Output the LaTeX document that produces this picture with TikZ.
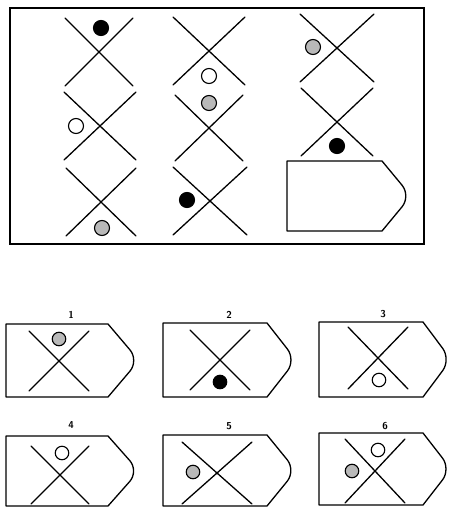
\documentclass[tikz,border=0pt]{standalone}
\begin{document}
\begin{tikzpicture}[x=1pt,y=-1pt,
  crossline/.style={line width=1.3pt,line cap=round},
  dotbase/.style={circle,draw,line width=1.1pt,inner sep=0pt,minimum size=15pt},
  dotsmall/.style={dotbase,minimum size=13.5pt},
  blackdot/.style={fill=black},
  whitedot/.style={fill=white},
  greydot/.style={fill=gray!55},
  tagline/.style={line width=1.3pt,line join=round},
  lbl/.style={font=\sffamily\bfseries\fontsize{10}{12}\selectfont,inner sep=0pt}]
\useasboundingbox (0,0) rectangle (452,509);
\newcommand\xcr[4]{%
  \draw[crossline] (#1-#3,#2-#4) -- (#1+#3,#2+#4);
  \draw[crossline] (#1+#3,#2-#4) -- (#1-#3,#2+#4);}
\newcommand\tagshape[5]{% x0 y0 xc x1 y1
  \draw[tagline] (#1,#2) -- (#3,#2) [rounded corners=14pt]-- (#4,{(#2+#5)/2}) [sharp corners]-- (#3,#5) -- (#1,#5) -- cycle;}
% frame
\draw[line width=1.8pt] (10,8) rectangle (424,244);
% grid crosses
\xcr{99}{52}{34}{34}
\xcr{100}{126}{36}{34}
\xcr{101}{202}{35}{34}
\xcr{209}{51}{36}{34}
\xcr{209}{128}{34}{33}
\xcr{210}{201}{37}{34}
\xcr{337}{48}{37}{34}
\xcr{337}{122}{36}{34}
\tagshape{287}{161}{382}{411}{231}
% grid dots
\node[dotbase,blackdot] (g11) at (101,28) {};
\node[dotbase,whitedot] (g12) at (76,126) {};
\node[dotbase,greydot] (g13) at (102,228) {};
\node[dotbase,whitedot] (g21) at (209,76) {};
\node[dotbase,greydot] (g22) at (209,103) {};
\node[dotbase,blackdot] (g23) at (187,200) {};
\node[dotbase,greydot] (g31) at (313,47) {};
\node[dotbase,blackdot] (g32) at (337,146) {};
% options
\tagshape{6}{324}{108}{139}{397}
\tagshape{163}{323}{267}{296}{397}
\tagshape{319}{322}{423}{451}{397}
\tagshape{6}{436}{108}{139}{506}
\tagshape{163}{435}{267}{296}{506}
\tagshape{319}{433}{423}{451}{505}
\node[lbl] (l1) at (71,315) {1};
\node[lbl] (l2) at (229,315) {2};
\node[lbl] (l3) at (383,314) {3};
\node[lbl] (l4) at (71,425) {4};
\node[lbl] (l5) at (229,426) {5};
\node[lbl] (l6) at (385,426) {6};
\xcr{59}{361}{30}{30}
\xcr{220}{360}{30}{30}
\xcr{378}{358}{30}{31}
\xcr{60}{475}{29}{29}
\xcr{217}{473}{35}{31}
\xcr{375}{471}{30}{32}
\node[dotsmall,greydot] (o1) at (59,339) {};
\node[dotsmall,blackdot] (o2) at (220,382) {};
\node[dotsmall,whitedot] (o3) at (379,380) {};
\node[dotsmall,whitedot] (o4) at (62,453) {};
\node[dotsmall,greydot] (o5) at (193,472) {};
\node[dotsmall,whitedot] (o6a) at (378,450) {};
\node[dotsmall,greydot] (o6b) at (352,471) {};
\end{tikzpicture}
\end{document}
